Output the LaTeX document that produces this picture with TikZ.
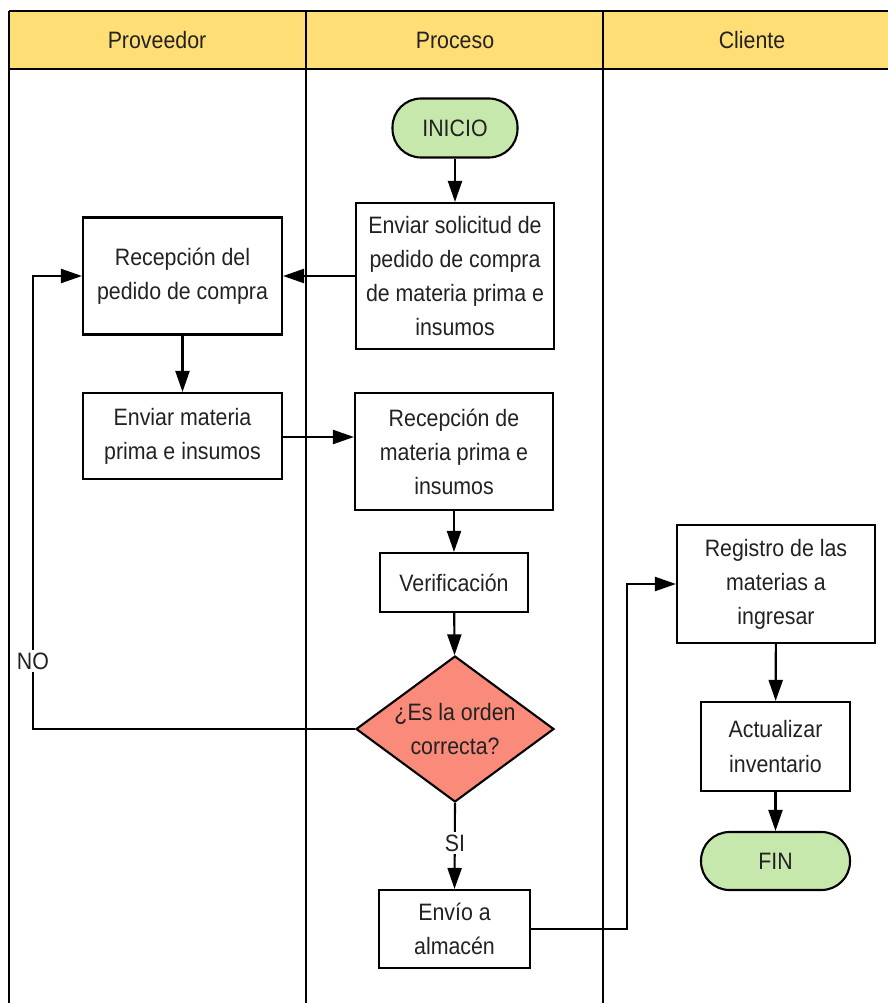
\documentclass[tikz,border=0pt]{standalone}
\usepackage{fontspec}
\setmainfont{Liberation Sans}[FakeStretch=0.9]
\usetikzlibrary{arrows.meta,shapes.geometric}
\definecolor{hdr}{RGB}{255,222,117}
\definecolor{termgreen}{RGB}{199,232,172}
\definecolor{decred}{RGB}{250,138,122}
\definecolor{txt}{RGB}{34,34,34}
\begin{document}
\begin{tikzpicture}[x=0.02cm,y=-0.02cm,
  font=\fontsize{13.5}{19.4}\selectfont,
  box/.style={draw, line width=1.2pt, fill=white, align=center, inner sep=2pt, text=txt},
  term/.style={box, fill=termgreen, rounded corners=0.57cm},
  decision/.style={diamond, draw, line width=1.2pt, fill=decred, inner sep=0pt},
  arr/.style={line width=1.2pt, -{Triangle[length=0.42cm,width=0.28cm]}},
  lane/.style={line width=1.2pt},
  lbl/.style={fill=white, inner sep=1.5pt, text=txt},
  hdrtext/.style={text=txt}]
\useasboundingbox (0,0) rectangle (887,1003);
% header and lanes
\fill[hdr] (9,11) rectangle (900,69);
\draw[lane] (9,11) -- (900,11);
\draw[lane] (9,69) -- (900,69);
\draw[lane] (9,11) -- (9,1010);
\draw[lane] (306,11) -- (306,1010);
\draw[lane] (603,11) -- (603,1010);
\node[hdrtext] (h1) at (157,40) {Proveedor};
\node[hdrtext] (h2) at (455,40) {Proceso};
\node[hdrtext] (h3) at (752,40) {Cliente};
% nodes
\node[term, minimum width=2.5cm, minimum height=1.18cm] (inicio) at (455,128) {INICIO};
\node[box, minimum width=3.96cm, minimum height=2.92cm] (solicitud) at (455,276) {Enviar solicitud de\\pedido de compra\\de materia prima e\\insumos};
\node[box, minimum width=3.98cm, minimum height=2.34cm] (recped) at (182.5,276) {Recepción del\\pedido de compra};
\node[box, minimum width=3.98cm, minimum height=1.72cm] (envmat) at (182.5,436) {Enviar materia\\prima e insumos};
\node[box, minimum width=3.96cm, minimum height=2.34cm] (recmat) at (454,451.5) {Recepción de\\materia prima e\\insumos};
\node[box, minimum width=2.96cm, minimum height=1.18cm] (verif) at (454,582.5) {Verificación};
\node[decision, minimum width=3.96cm, minimum height=2.92cm] (dec) at (455,729) {};
\node[align=center, text=txt] (dectext) at (dec.center) {¿Es la orden\\correcta?};
\node[box, minimum width=3.02cm, minimum height=1.56cm] (envio) at (454.5,929) {Envío a\\almacén};
\node[box, minimum width=3.96cm, minimum height=2.36cm] (registro) at (776,584) {Registro de las\\materias a\\ingresar};
\node[box, minimum width=2.98cm, minimum height=1.78cm] (actual) at (775.5,746.5) {Actualizar\\inventario};
\node[term, minimum width=2.98cm, minimum height=1.16cm] (fin) at (775.5,861) {FIN};
% connectors
\draw[arr] (inicio) -- (solicitud);
\draw[arr] (solicitud.west) -- (recped.east);
\draw[arr] (recped) -- (envmat);
\draw[arr] (envmat.east |- 0,437) -- (recmat.west |- 0,437);
\draw[arr] (recmat) -- (verif);
\draw[arr] (verif) -- (dec);
\coordinate (nobend) at (33,276);
\draw[arr] (dec.west) -| (nobend) -- (recped.west);
\node[lbl] (no) at (33,661) {NO};
\draw[arr] (dec.south) -- (envio.north);
\node[lbl] (si) at (455,843) {SI};
\coordinate (envbend) at (627,584);
\draw[arr] (envio.east) -| (envbend) -- (registro.west);
\draw[arr] (registro) -- (actual);
\draw[arr] (actual) -- (fin);
\end{tikzpicture}
\end{document}
